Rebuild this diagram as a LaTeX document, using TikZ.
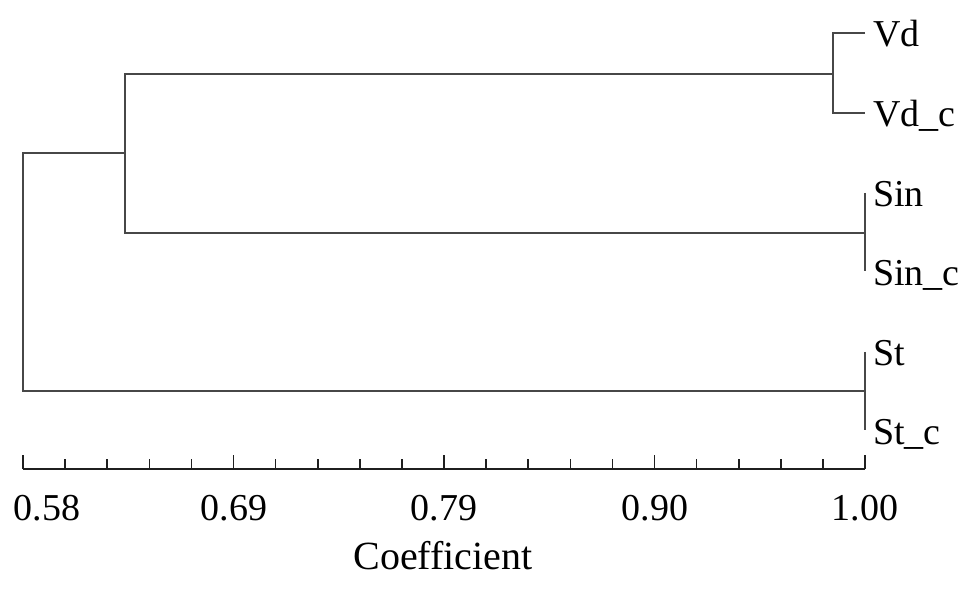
\documentclass[tikz,border=0pt]{standalone}
\usepackage{fontspec}
\setmainfont{Liberation Serif}
\begin{document}
\begin{tikzpicture}[x=1pt,y=-1pt,
  tree/.style={draw=black!72,line width=1.4pt},
  axisline/.style={draw=black!88,line width=1.8pt},
  leaf/.style={anchor=base west,inner sep=0pt,font=\fontsize{38}{40}\selectfont},
  ticklabel/.style={anchor=base,inner sep=0pt,font=\fontsize{38}{40}\selectfont}]
\useasboundingbox (0,0) rectangle (980,593);
% leaf points
\coordinate (pVd) at (865,33);
\coordinate (pVdc) at (865,113);
\coordinate (pSin) at (865,193);
\coordinate (pSinc) at (865,271);
\coordinate (pSt) at (865,352);
\coordinate (pStc) at (865,430);
% junctions
\coordinate (jVdT) at (833,33);
\coordinate (jVdB) at (833,113);
\coordinate (jVd) at (833,74);
\coordinate (jSin) at (865,233);
\coordinate (jSt) at (865,391);
\coordinate (jAT) at (125,74);
\coordinate (jAB) at (125,233);
\coordinate (jA) at (125,153);
\coordinate (jRT) at (23,153);
\coordinate (jRB) at (23,391);
% labels
\node[leaf] (lVd) at (873,47) {Vd};
\node[leaf] (lVdc) at (873,127) {Vd\_c};
\node[leaf] (lSin) at (873,207) {Sin};
\node[leaf] (lSinc) at (873,286) {Sin\_c};
\node[leaf] (lSt) at (873,366) {St};
\node[leaf] (lStc) at (873,444) {St\_c};
% tree
\draw[tree] (pVd) -- (jVdT) -- (jVdB) -- (pVdc);
\draw[tree] (pSin) -- (pSinc);
\draw[tree] (pSt) -- (pStc);
\draw[tree] (jVd) -- (jAT) -- (jAB) -- (jSin);
\draw[tree] (jA) -- (jRT) -- (jRB) -- (jSt);
% axis
\coordinate (a0) at (23,469);
\coordinate (a1) at (865,469);
\draw[axisline] (a0) -- (a1);
\foreach \i in {0,...,20} {
  \pgfmathsetmacro{\xx}{23+\i*42.1}
  \pgfmathtruncatemacro{\m}{mod(\i,5)}
  \ifnum\m=0
    \draw[axisline,line width=1.6pt] (\xx,469) -- (\xx,455);
  \else
    \draw[axisline,line width=1.6pt] (\xx,469) -- (\xx,459);
  \fi
}
\node[ticklabel] (t1) at (47,520) {0.58};
\node[ticklabel] (t2) at (234,520) {0.69};
\node[ticklabel] (t3) at (444,520) {0.79};
\node[ticklabel] (t4) at (655,520) {0.90};
\node[ticklabel] (t5) at (865,520) {1.00};
\node[ticklabel,font=\fontsize{40}{42}\selectfont] (title) at (443,569) {Coefficient};
\end{tikzpicture}
\end{document}
